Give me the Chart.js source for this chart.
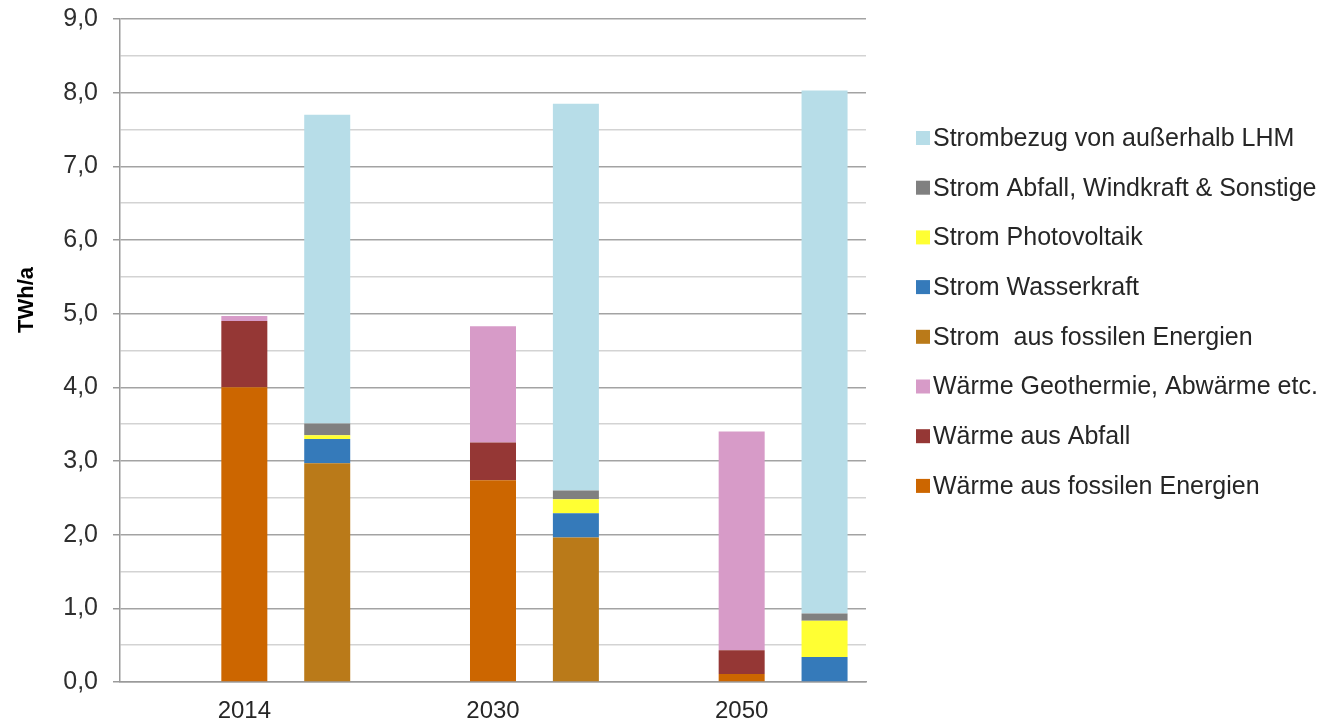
<!DOCTYPE html>
<html>
<head>
<meta charset="utf-8">
<script src="https://cdn.jsdelivr.net/npm/chart.js@4/dist/chart.umd.min.js"></script>
<style>
html,body{margin:0;padding:0;background:#fff;}
canvas{display:block;}
</style>
</head>
<body>
<canvas id="c" width="1326" height="723"></canvas>
<script>
// Categories
const years = ["2014", "2030", "2050"];

// Heat (Wärme) stack, TWh/a
const waermeFossil = [4.00, 2.74, 0.11];
const waermeAbfall = [0.90, 0.51, 0.32];
const waermeGeo    = [0.07, 1.58, 2.97];

// Electricity (Strom) stack, TWh/a
const stromFossil  = [2.97, 1.96, 0.00];
const stromWasser  = [0.33, 0.33, 0.34];
const stromPV      = [0.05, 0.19, 0.49];
const stromAbfall  = [0.16, 0.12, 0.10];
const stromBezug   = [4.19, 5.25, 7.10];

// Empty left slot per category (keeps the heat column centred on the year label)
const emptySlot = [0, 0, 0];

// Labels
const seriesNames = [
  "Wärme aus fossilen Energien",
  "Wärme aus Abfall",
  "Wärme Geothermie, Abwärme etc.",
  "Strom  aus fossilen Energien",
  "Strom Wasserkraft",
  "Strom Photovoltaik",
  "Strom Abfall, Windkraft & Sonstige",
  "Strombezug von außerhalb LHM"
];
const yAxisTitle = "TWh/a";
const yTickMax = 9;
const yStep = 0.5;

const colors = ["#CC6600", "#953735", "#D79BC8", "#BA7A19", "#357ABA", "#FFFF33", "#808080", "#B7DDE8"];
const FONT = "'Liberation Sans', Arial, sans-serif";

// Legend drawn on the canvas from the chart's datasets (right side, reversed order)
const sideLegend = {
  id: 'sideLegend',
  afterDraw(chart) {
    const ctx = chart.ctx;
    const items = chart.data.datasets.filter(d => d.label !== "_empty").slice().reverse();
    ctx.save();
    ctx.font = "25px " + FONT;
    ctx.textBaseline = 'middle';
    ctx.textAlign = 'left';
    items.forEach((d, i) => {
      const cy = 138 + i * 49.7;
      ctx.fillStyle = d.backgroundColor;
      ctx.fillRect(916, cy - 7, 14, 14);
      ctx.fillStyle = '#262626';
      ctx.fillText(d.label, 933, cy + 1);
    });
    ctx.restore();
  }
};

// Y-axis title (rotated), placed beside the axis
const yTitle = {
  id: 'yTitle',
  afterDraw(chart) {
    const ctx = chart.ctx;
    ctx.save();
    ctx.translate(27, 300);
    ctx.rotate(-Math.PI / 2);
    ctx.font = "bold 22px " + FONT;
    ctx.fillStyle = '#000';
    ctx.textAlign = 'center';
    ctx.textBaseline = 'middle';
    ctx.fillText(yAxisTitle, 0, 0);
    ctx.restore();
  }
};

const seriesData = [waermeFossil, waermeAbfall, waermeGeo, stromFossil, stromWasser, stromPV, stromAbfall, stromBezug];
const stacks = ["w", "w", "w", "s", "s", "s", "s", "s"];

const datasets = [{
  label: "_empty",
  data: emptySlot,
  stack: "e",
  backgroundColor: "rgba(0,0,0,0)",
  borderWidth: 0
}];
seriesData.forEach((d, i) => {
  datasets.push({
    label: seriesNames[i],
    data: d,
    stack: stacks[i],
    backgroundColor: colors[i],
    borderWidth: 0
  });
});

const isInt = (v) => Math.abs(v - Math.round(v)) < 1e-9;

new Chart(document.getElementById('c'), {
  type: 'bar',
  data: { labels: years, datasets: datasets },
  plugins: [sideLegend, yTitle],
  options: {
    responsive: false,
    devicePixelRatio: 1,
    animation: false,
    layout: { padding: { top: 19, right: 460, bottom: 0, left: 0 } },
    datasets: { bar: { categoryPercentage: 1.0, barPercentage: 0.555 } },
    plugins: {
      tooltip: { enabled: false },
      legend: { display: false }
    },
    scales: {
      x: {
        stacked: true,
        grid: { display: false, drawTicks: false },
        border: { display: true, color: '#9a9a9a', width: 1.5 },
        ticks: {
          padding: 15,
          color: '#262626',
          font: { family: FONT, size: 24 }
        },
        afterFit: (s) => { s.height = 41; }
      },
      y: {
        stacked: true,
        min: 0,
        max: yTickMax,
        border: { display: true, color: '#9a9a9a', width: 1.5 },
        grid: {
          color: (ctx) => (ctx.tick && isInt(ctx.tick.value)) ? '#a3a3a3' : '#d3d3d3',
          lineWidth: 1.5,
          tickLength: 7,
          tickColor: (ctx) => (ctx.tick && isInt(ctx.tick.value)) ? '#9a9a9a' : 'rgba(0,0,0,0)',
          tickWidth: 1.5
        },
        ticks: {
          stepSize: yStep,
          autoSkip: false,
          padding: 15,
          color: '#2e2e2e',
          font: { family: FONT, size: 25 },
          callback: (v) => isInt(v) ? v.toFixed(1).replace('.', ',') : ''
        },
        afterFit: (s) => { s.width = 120; s.paddingTop = 0; s.paddingBottom = 0; }
      }
    }
  }
});
</script>
</body>
</html>
